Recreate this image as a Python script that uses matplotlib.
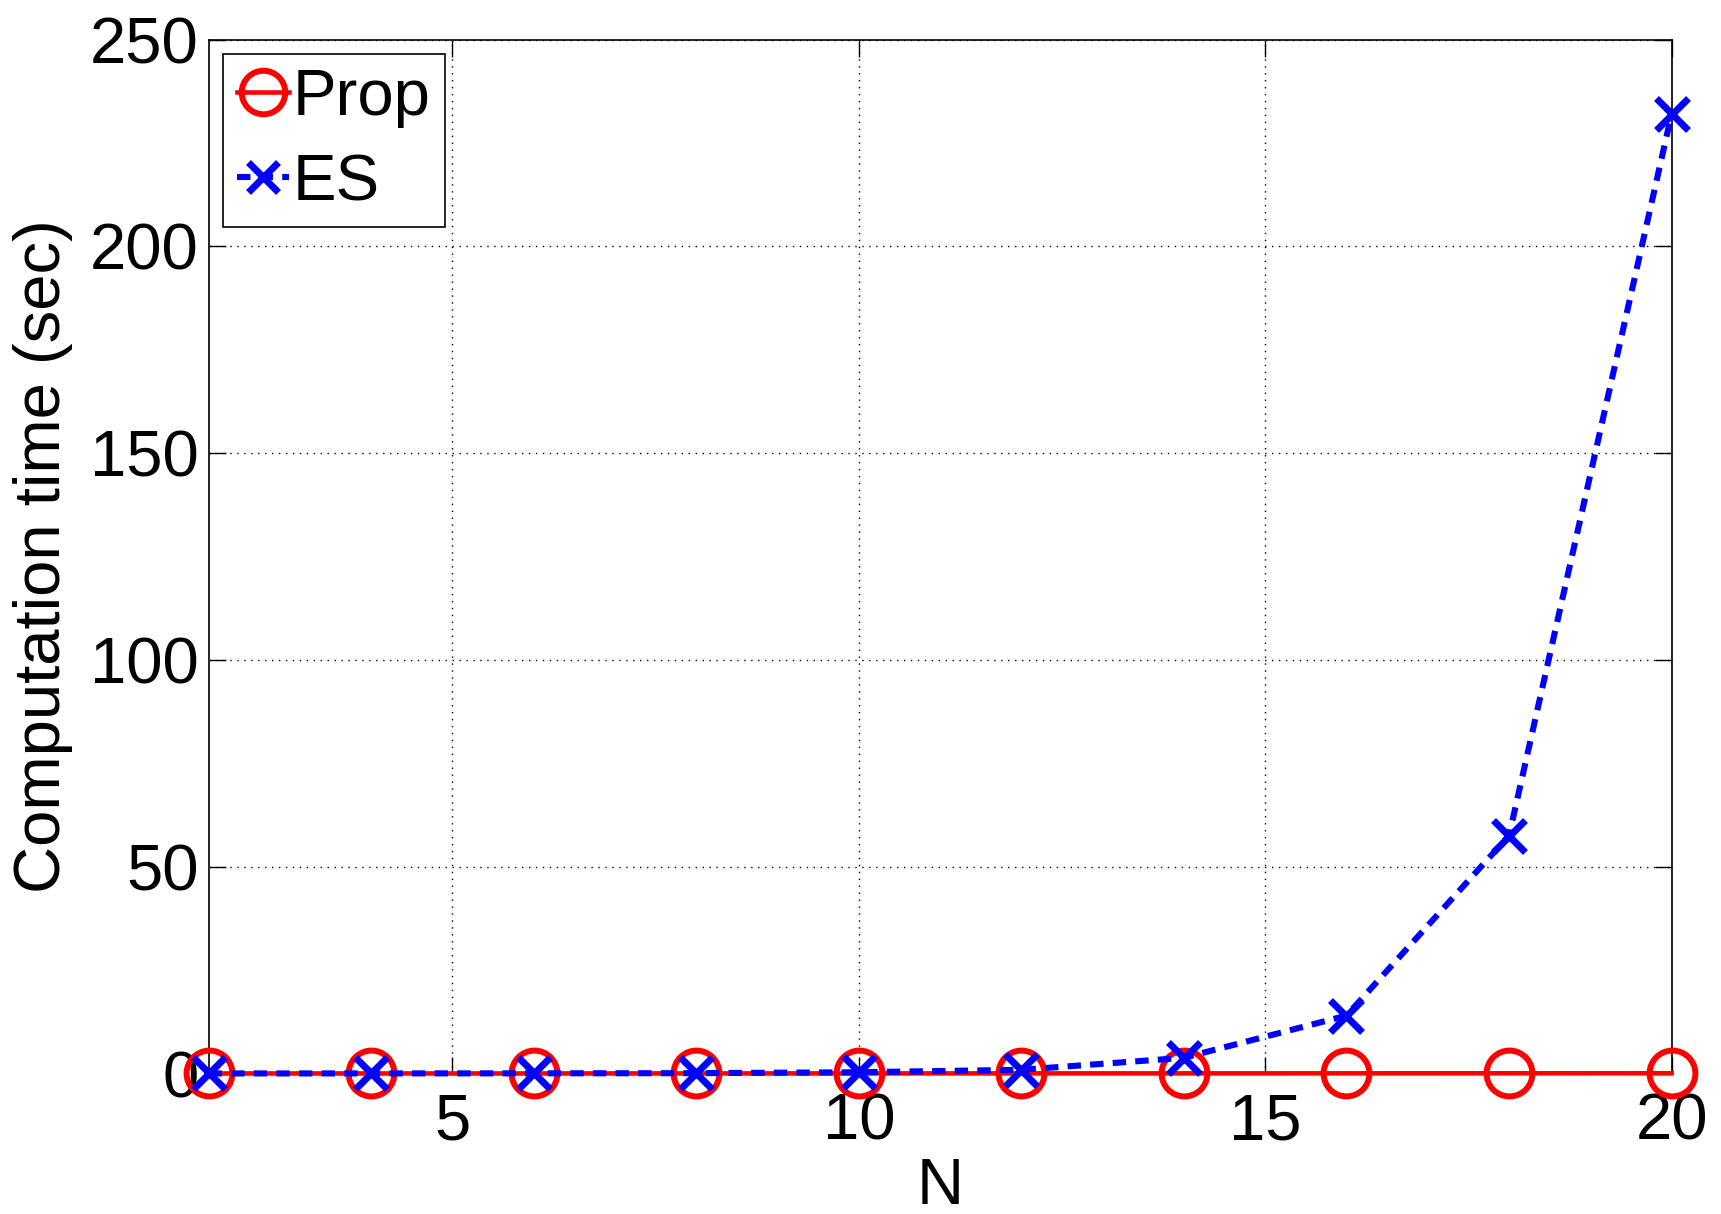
import numpy as np
import matplotlib
matplotlib.use('Agg')
import matplotlib.pyplot as plt

plt.rcParams['font.family'] = ['Liberation Sans', 'DejaVu Sans']

N = [2, 4, 6, 8, 10, 12, 14, 16, 18, 20]
prop = [0.01, 0.01, 0.01, 0.02, 0.02, 0.03, 0.03, 0.04, 0.05, 0.06]
es = [0.01, 0.02, 0.04, 0.08, 0.3, 0.9, 3.8, 14.0, 57.5, 232.0]

fs = 47

fig = plt.figure(figsize=(17.21, 12.14), dpi=100)
ax = fig.add_axes([208.5 / 1721, 1 - 1073.5 / 1214, (1671.6 - 208.5) / 1721, (1073.5 - 39.5) / 1214])

ax.plot(N, prop, color='red', linestyle='-', linewidth=3.3, marker='o', markersize=33,
        markerfacecolor='none', markeredgewidth=4.3, label='Prop', clip_on=False, zorder=3)
ax.plot(N, es, color='blue', linestyle=(0, (2.2, 1.5)), linewidth=4.4, marker='x', markersize=23,
        markeredgewidth=5, label='ES', clip_on=False, zorder=4)

ax.set_xlim(2, 20)
ax.set_ylim(0, 250)
ax.set_xticks([5, 10, 15, 20])
ax.set_yticks([0, 50, 100, 150, 200, 250])
ax.tick_params(direction='in', length=12, width=1, labelsize=fs, top=True, right=True)
ax.tick_params(axis='x', pad=14)
ax.tick_params(axis='y', pad=7)
ax.grid(True, color='black', linestyle=(0, (1, 4)), linewidth=1)
for s in ax.spines.values():
    s.set_linewidth(1.2)

ax.set_xlabel('N', fontsize=fs, labelpad=3)
ax.set_ylabel('Computation time (sec)', fontsize=fs, labelpad=12)

leg = ax.legend(loc='upper left', fontsize=fs, handlelength=0.8, handletextpad=0.05,
                borderpad=0.22, labelspacing=0.38, fancybox=False, edgecolor='black',
                framealpha=1, borderaxespad=0.22, markerscale=0.95)
leg.get_frame().set_linewidth(1.2)

fig.savefig('out.png', dpi=100)
